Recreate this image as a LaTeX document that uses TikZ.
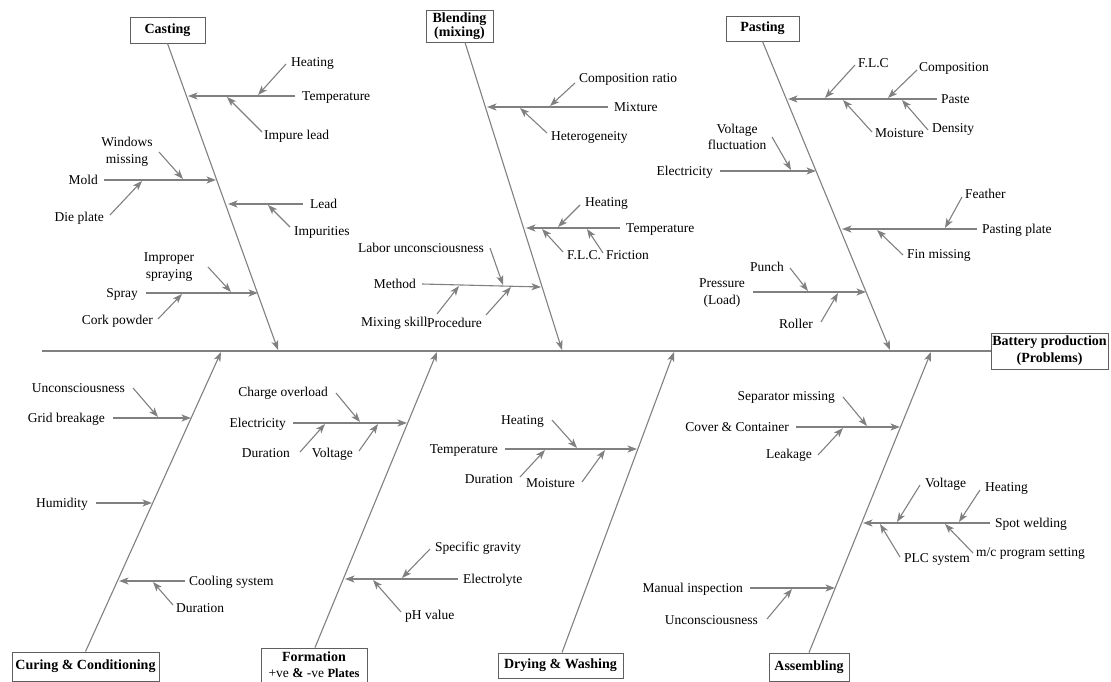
\documentclass[tikz,border=0pt]{standalone}
\usepackage{fontspec}
\setmainfont{Liberation Serif}
\usetikzlibrary{arrows.meta}

\definecolor{linegray}{RGB}{128,128,128}
\definecolor{boxgray}{RGB}{95,95,95}

\tikzset{
  causearrow/.style={draw=linegray, line width=1.1pt,
    -{Stealth[length=9.5pt,width=7pt,inset=2.5pt]}},
  spineline/.style={draw=linegray, line width=1.3pt},
  causetext/.style={inner sep=0pt, font=\fontsize{13.5}{16.5}\selectfont,
    text height=9pt, text depth=0pt},
  causetwo/.style={inner sep=0pt, font=\fontsize{13.5}{16.5}\selectfont, align=center},
  headbox/.style={draw=boxgray, line width=0.9pt, fill=white, inner sep=1pt,
    font=\bfseries\fontsize{14}{14}\selectfont, align=center},
}

% a cause arrow between two named coordinates
\newcommand\cause[3]{%
  \coordinate (#1-s) at (#2);
  \coordinate (#1-e) at (#3);
  \draw[causearrow] (#1-s) -- (#1-e);}

\begin{document}
\begin{tikzpicture}[x=1pt,y=-1pt]
\useasboundingbox (0,0) rectangle (1111,682);

% ---------- head and spine ----------
\node[headbox, minimum width=117pt, minimum height=36pt, font=\bfseries\fontsize{14}{17}\selectfont]
  (effect) at (1049.5,351) {Battery production\\(Problems)};
\coordinate (tail) at (42,351);
\draw[spineline] (tail) -- (effect.west);

% ---------- category boxes ----------
\node[headbox, minimum width=75pt, minimum height=26pt] (casting) at (167.5,30) {Casting};
\node[headbox, minimum width=67pt, minimum height=32pt, font=\bfseries\fontsize{14}{13.5}\selectfont]
  (blending) at (459.5,26) {Blending\\(mixing)};
\node[headbox, minimum width=73pt, minimum height=25pt] (pasting) at (762.5,28.5) {Pasting};
\node[headbox, minimum width=147pt, minimum height=29pt] (curing) at (85.5,666.5) {Curing \& Conditioning};
\node[headbox, minimum width=106pt, minimum height=34pt, font=\bfseries\fontsize{14}{16}\selectfont]
  (formation) at (314,665) {Formation\\{\mdseries\fontsize{13.5}{14}\selectfont +ve \textbf{\&} -ve \textbf{\fontsize{12.5}{14}\selectfont Plates}}};
\node[headbox, minimum width=125pt, minimum height=25pt] (drying) at (560.5,665.5) {Drying \& Washing};
\node[headbox, minimum width=80pt, minimum height=28pt] (assembling) at (809,667) {Assembling};

% ---------- main bones ----------
\coordinate (castingTip) at (278,350);
\coordinate (blendingTip) at (562,350);
\coordinate (pastingTip) at (890,350);
\coordinate (curingTip) at (221,352);
\coordinate (formationTip) at (437,352);
\coordinate (dryingTip) at (674,352);
\coordinate (assemblingTip) at (931,352);
\draw[causearrow] (casting.south) -- (castingTip);
\draw[causearrow] ([xshift=5.5pt]blending.south) -- (blendingTip);
\draw[causearrow] (pasting.south) -- (pastingTip);
\draw[causearrow] (curing.north) -- (curingTip);
\draw[causearrow] ([xshift=1pt]formation.north) -- (formationTip);
\draw[causearrow] ([xshift=1.5pt]drying.north) -- (dryingTip);
\draw[causearrow] (assembling.north) -- (assemblingTip);

% ---------- Casting ----------
\node[causetext, anchor=west] (castTemp) at (302,96) {Temperature};
\node[causetext, anchor=west] (castHeat) at (291,62) {Heating};
\node[causetext, anchor=west] (castImp) at (264,135) {Impure lead};
\node[causetext, anchor=east] (castMold) at (98,180) {Mold};
\node[causetwo] (castWin) at (127,152) {Windows\\missing};
\node[causetext, anchor=east] (castDie) at (104,217) {Die plate};
\node[causetext, anchor=west] (castLead) at (310,204) {Lead};
\node[causetext, anchor=west] (castImpu) at (294,231) {Impurities};
\node[causetext, anchor=east] (castSpray) at (138,293) {Spray};
\node[causetwo] (castImpr) at (169,267) {Improper\\spraying};
\node[causetext, anchor=east] (castCork) at (153,320) {Cork powder};
\cause{castTempA}{295,96}{188,96}
\cause{castHeatA}{286,64}{258,95}
\cause{castImpA}{262,132}{227,97}
\cause{castMoldA}{104,180}{216,180}
\cause{castWinA}{159,152}{183,179}
\cause{castDieA}{110,215}{142,181}
\cause{castLeadA}{303,204}{228,204}
\cause{castImpuA}{290,227}{268,205}
\cause{castSprayA}{146,293}{258,293}
\cause{castImprA}{208,267}{231,292}
\cause{castCorkA}{158,319}{182,294}

% ---------- Blending ----------
\node[causetext, anchor=west] (blMix) at (614,107) {Mixture};
\node[causetext, anchor=west] (blComp) at (579,78) {Composition ratio};
\node[causetext, anchor=west] (blHet) at (551,136) {Heterogeneity};
\node[causetext, anchor=west] (blTemp) at (626,228) {Temperature};
\node[causetext, anchor=west] (blHeat) at (585,202) {Heating};
\node[causetext, anchor=west] (blFlc) at (567,255) {F.L.C.};
\node[causetext, anchor=west] (blFric) at (606,255) {Friction};
\node[causetext, anchor=east] (blMeth) at (416,284) {Method};
\node[causetext, anchor=east] (blLab) at (484,248) {Labor unconsciousness};
\node[causetext, anchor=west] (blSkill) at (361,322) {Mixing skill};
\node[causetext, anchor=west] (blProc) at (427,323) {Procedure};
\cause{blMixA}{608,107}{487,107}
\cause{blCompA}{575,83}{550,106}
\cause{blHetA}{547,133}{520,108}
\cause{blTempA}{620,228}{526,228}
\cause{blHeatA}{580,205}{558,227}
\cause{blFlcA}{563,252}{542,229}
\cause{blFricA}{603,253}{587,229}
\cause{blMethA}{422,284}{541,287}
\cause{blLabA}{490,248}{503,285}
\cause{blSkillA}{437,314}{459,286}
\cause{blProcA}{486,315}{511,287}

% ---------- Pasting ----------
\node[causetext, anchor=west] (paPaste) at (941,99) {Paste};
\node[causetext, anchor=west] (paFlc) at (858,63) {F.L.C};
\node[causetext, anchor=west] (paComp) at (919,67) {Composition};
\node[causetext, anchor=west] (paMoist) at (875,133) {Moisture};
\node[causetext, anchor=west] (paDens) at (932,128) {Density};
\node[causetext, anchor=east] (paElec) at (713,171) {Electricity};
\node[causetwo] (paVolt) at (737,137) {Voltage\\fluctuation};
\node[causetext, anchor=west] (paPlate) at (982,229) {Pasting plate};
\node[causetext, anchor=west] (paFeath) at (965,194) {Feather};
\node[causetext, anchor=west] (paFin) at (907,254) {Fin missing};
\node[causetwo] (paPress) at (722,293) {Pressure\\(Load)};
\node[causetext] (paPunch) at (767,267) {Punch};
\node[causetext, anchor=east] (paRoll) at (813,324) {Roller};
\cause{paPasteA}{937,99}{788,99}
\cause{paFlcA}{855,65}{825,98}
\cause{paCompA}{917,70}{888,98}
\cause{paMoistA}{872,132}{843,100}
\cause{paDensA}{928,130}{902,100}
\cause{paElecA}{720,171}{816,171}
\cause{paVoltA}{772,137}{791,170}
\cause{paPlateA}{977,229}{842,229}
\cause{paFeathA}{962,197}{945,228}
\cause{paFinA}{903,255}{877,230}
\cause{paPressA}{753,292}{866,292}
\cause{paPunchA}{790,268}{808,291}
\cause{paRollA}{821,322}{838,293}

% ---------- Curing & Conditioning ----------
\node[causetext, anchor=east] (cuGrid) at (105,418) {Grid breakage};
\node[causetext, anchor=east] (cuUnc) at (125,388) {Unconsciousness};
\node[causetext, anchor=east] (cuHum) at (88,503) {Humidity};
\node[causetext, anchor=west] (cuCool) at (189,581) {Cooling system};
\node[causetext, anchor=west] (cuDur) at (176,608) {Duration};
\cause{cuGridA}{113,418}{191,418}
\cause{cuUncA}{133,388}{158,417}
\cause{cuHumA}{96,503}{152,503}
\cause{cuCoolA}{185,581}{119,581}
\cause{cuDurA}{173,605}{153,582}

% ---------- Formation ----------
\node[causetext, anchor=east] (foElec) at (286,423) {Electricity};
\node[causetext, anchor=east] (foCharge) at (328,392) {Charge overload};
\node[causetext, anchor=east] (foDur) at (290,453) {Duration};
\node[causetext, anchor=east] (foVolt) at (353,453) {Voltage};
\node[causetext, anchor=west] (foElyt) at (463,579) {Electrolyte};
\node[causetext, anchor=west] (foSg) at (435,547) {Specific gravity};
\node[causetext, anchor=west] (foPh) at (405,615) {pH value};
\cause{foElecA}{293,423}{407,423}
\cause{foChargeA}{336,393}{360,422}
\cause{foDurA}{300,452}{325,424}
\cause{foVoltA}{359,451}{378,424}
\cause{foElytA}{458,579}{345,579}
\cause{foSgA}{430,549}{402,578}
\cause{foPhA}{401,612}{373,580}

% ---------- Drying & Washing ----------
\node[causetext, anchor=east] (drTemp) at (498,449) {Temperature};
\node[causetext, anchor=east] (drHeat) at (544,420) {Heating};
\node[causetext, anchor=east] (drDur) at (513,479) {Duration};
\node[causetext, anchor=east] (drMoist) at (575,483) {Moisture};
\cause{drTempA}{505,449}{637,449}
\cause{drHeatA}{552,420}{577,448}
\cause{drDurA}{520,477}{545,450}
\cause{drMoistA}{582,482}{605,450}

% ---------- Assembling ----------
\node[causetext, anchor=east] (asCover) at (789,427) {Cover \& Container};
\node[causetext, anchor=east] (asSep) at (835,396) {Separator missing};
\node[causetext, anchor=east] (asLeak) at (812,454) {Leakage};
\node[causetext, anchor=west] (asSpot) at (995,523) {Spot welding};
\node[causetext, anchor=west] (asVolt) at (925,483) {Voltage};
\node[causetext, anchor=west] (asHeat) at (985,487) {Heating};
\node[causetext, anchor=west] (asPlc) at (904,558) {PLC system};
\node[causetext, anchor=west] (asMc) at (976,552) {m/c program setting};
\node[causetext, anchor=east] (asMan) at (743,588) {Manual inspection};
\node[causetext, anchor=east] (asUnc) at (758,620) {Unconsciousness};
\cause{asCoverA}{796,427}{900,427}
\cause{asSepA}{843,397}{867,426}
\cause{asLeakA}{818,455}{843,428}
\cause{asSpotA}{990,523}{863,523}
\cause{asVoltA}{920,485}{897,522}
\cause{asHeatA}{980,490}{959,522}
\cause{asPlcA}{900,557}{880,524}
\cause{asMcA}{973,553}{945,524}
\cause{asManA}{750,588}{835,588}
\cause{asUncA}{767,619}{792,589}

\end{tikzpicture}
\end{document}
